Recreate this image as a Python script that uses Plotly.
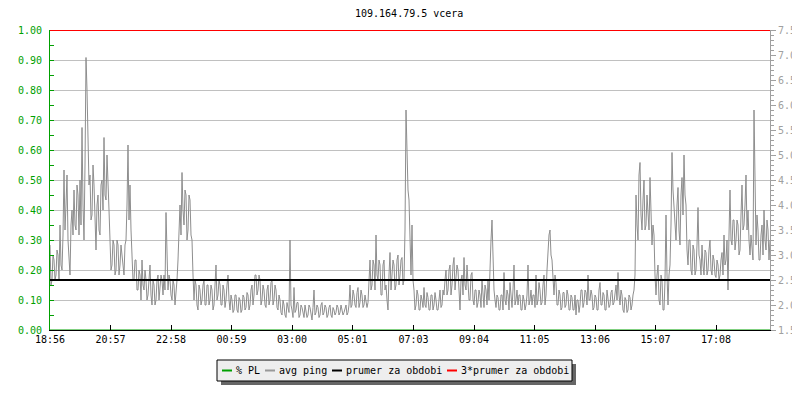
import plotly.graph_objects as go

# ---------------- data ----------------
title_text = "109.164.79.5 vcera"
tick_labels = ["18:56", "20:57", "22:58", "00:59", "03:00", "05:01",
               "07:03", "09:04", "11:05", "13:06", "15:07", "17:08"]
series_names = ["% PL", "avg ping", "prumer za obdobi", "3*prumer za obdobi"]
series_colors = ["#00a000", "#999999", "#000000", "#ff0000"]
sample_step_min = 4  # readings at 18:56 + 4*i minutes ...

# avg ping [ms] read at minute 4*i after 18:56
avg_ping_even = [
    3.2, 2.5, 2.9, 2.6, 3.0, 3.6, 2.7, 4.7, 4.0, 3.3,
    2.6, 3.9, 4.3, 3.5, 4.2, 4.5, 5.55, 3.3, 6.95, 5.0,
    4.6, 3.8, 4.4, 3.1, 4.2, 3.4, 4.5, 5.35, 4.1, 4.6,
    3.3, 2.8, 3.2, 2.7, 3.2, 2.8, 3.0, 2.6, 3.3, 5.2,
    4.4, 3.0, 2.5, 2.9, 2.3, 2.6, 2.9, 2.3, 2.5, 2.2,
    2.8, 2.0, 2.4, 2.1, 2.6, 2.3, 2.5, 2.6, 3.85, 2.3,
    2.5, 2.1, 2.4, 2.2, 2.9, 4.0, 4.65, 3.6, 4.2, 3.5,
    4.1, 3.3, 2.1, 2.4, 1.9, 2.3, 2.1, 2.5, 2.0, 2.4,
    2.1, 2.3, 2.0, 2.8, 2.2, 2.4, 2.0, 2.3, 2.1, 2.6,
    1.9, 2.1, 1.9, 2.2, 1.85, 2.1, 1.9, 2.15, 1.95, 2.2,
    2.0, 2.4, 2.2, 2.6, 2.3, 2.5, 2.1, 2.3, 1.95, 2.4,
    2.1, 2.5, 2.1, 2.3, 1.9, 2.1, 1.8, 2.0, 1.75, 1.95,
    3.3, 1.9,
    2.35, 1.9, 2.05, 1.8, 1.95, 1.75, 1.9, 1.8, 1.95, 1.7,
    2.3, 1.85, 1.95, 1.8, 2.05, 1.85, 1.95, 1.8, 2.0, 1.75,
    1.9, 1.85, 1.95, 1.85, 1.9, 1.85, 2.0, 1.85, 2.4, 2.0,
    2.2, 1.95, 2.35, 2.05, 2.2, 2.0, 2.1, 2.05, 2.9, 2.4,
    2.8, 3.4, 2.5, 2.8, 2.2, 2.9, 2.4, 1.9, 3.05, 2.6,
    2.8, 2.4, 3.0, 2.6, 2.95, 2.5, 5.9, 4.3, 3.0, 3.6,
    2.3, 2.0, 2.2, 1.9, 2.1, 2.35, 1.95, 2.15, 1.9, 2.2,
    2.0, 2.1, 1.9, 2.3, 2.0, 2.2, 2.7, 2.3, 2.8, 2.4,
    2.95, 2.5, 2.7, 1.9, 2.6, 2.95, 2.3, 2.5, 2.1, 2.65,
    2.0, 2.3, 2.05, 2.2, 2.5, 1.95, 2.3, 2.5, 3.0, 3.7,
    2.3, 1.95, 2.15, 1.9, 2.2, 2.65, 2.0, 2.2, 2.45, 1.95,
    2.8, 2.1, 2.0, 2.2, 1.9, 2.1, 2.0, 2.8, 2.1, 2.0,
    2.2,
    2.6, 2.1, 2.3, 2.05, 2.6, 2.2, 3.1, 3.5, 2.9, 2.2,
    2.45, 2.0, 2.2, 1.95, 2.25, 2.0, 2.2, 1.9, 2.15, 1.9,
    1.8, 2.1, 2.0, 2.3, 2.05, 2.25, 2.6, 2.1, 2.2, 1.95,
    2.15, 1.9, 2.45, 2.0, 2.2, 1.9, 2.1, 2.0, 2.3, 2.05,
    2.4, 2.65, 2.0, 2.2, 1.85, 2.1, 1.9, 2.15, 2.0, 2.3,
    4.2, 3.3, 4.85, 3.5, 4.5, 3.6, 3.9, 4.55, 3.2, 3.4,
    2.2, 2.8, 2.0, 2.5, 1.9, 3.8, 2.0, 2.8, 5.05, 3.9,
    3.3, 4.35, 3.2, 4.55, 5.0, 4.0, 2.8, 3.3, 2.6, 3.1,
    2.7, 3.95, 2.9, 3.2, 2.6, 3.05, 2.7, 3.3, 2.6, 2.9,
    2.55, 2.8, 2.6, 3.05, 3.4, 2.9, 2.3, 4.3, 3.2, 3.7,
    3.3, 3.6, 3.1, 4.4, 3.6, 4.6, 3.9, 3.0, 3.2, 5.9,
    3.2, 3.5, 2.9, 3.6, 3.9, 3.1, 3.5, 3.3,
]
# avg ping [ms] read at minute 4*i + 2 after 18:56
avg_ping_odd = [
    2.4, 3.0, 2.5, 3.1, 2.5, 2.8, 3.4, 3.5, 4.6, 2.9,
    3.6, 3.4, 3.6, 4.4, 3.4, 3.6, 4.0, 4.8, 6.3, 4.4,
    3.7, 4.8, 3.6, 4.0, 3.5, 4.4, 3.9, 4.2, 5.0, 3.9,
    2.7, 3.3, 2.6, 3.3, 2.6, 3.2, 2.7, 3.2, 4.0, 3.7,
    3.5, 2.5, 2.9, 2.3, 2.7, 2.1, 2.4, 2.7, 2.1, 2.6,
    2.2, 2.5, 2.0, 2.5, 2.1, 2.6, 2.2, 2.3, 2.9, 2.6,
    2.2, 2.5, 2.0, 2.5, 3.5, 3.4, 3.9, 4.3, 3.3, 4.2,
    3.4, 2.6, 2.5, 2.0, 2.4, 2.0, 2.4, 2.0, 2.4, 2.0,
    2.4, 1.9, 2.4, 2.1, 2.5, 2.0, 2.4, 1.95, 2.4, 2.1,
    2.2, 1.85, 2.2, 1.9, 2.15, 1.85, 2.2, 1.9, 2.25, 1.9,
    2.3, 2.0, 2.6, 2.2, 2.6, 2.0, 2.4, 2.0, 2.3, 2.0,
    2.45, 2.0, 2.4, 1.95, 2.2, 1.85, 2.1, 1.8, 2.05, 1.85,
    2.0, 1.75,
    1.85, 2.05, 1.75, 2.0, 1.8, 2.0, 1.75, 2.0, 1.8, 1.95,
    1.8, 2.0, 1.75, 2.0, 1.8, 2.0, 1.75, 1.95, 1.8, 1.95,
    1.8, 2.0, 1.8, 2.0, 1.8, 1.95, 1.8, 2.0, 1.95, 2.3,
    2.0, 2.25, 1.95, 2.3, 1.95, 2.2, 1.95, 2.5, 2.3, 2.9,
    2.3, 2.6, 2.9, 2.2, 2.8, 2.3, 2.1, 2.6, 2.3, 2.9,
    2.3, 2.9, 2.4, 2.9, 2.4, 3.5, 4.7, 4.1, 2.6, 2.5,
    1.9, 2.3, 1.9, 2.2, 1.95, 2.0, 2.25, 1.9, 2.2, 1.9,
    2.25, 1.9, 2.2, 1.95, 2.3, 2.5, 2.2, 2.7, 2.2, 2.8,
    2.3, 2.8, 2.2, 2.5, 2.2, 2.4, 2.8, 2.1, 2.6, 2.1,
    2.3, 1.95, 2.3, 1.95, 2.2, 2.4, 2.0, 2.1, 3.3, 2.9,
    2.1, 2.2, 1.9, 2.2, 1.9, 2.1, 2.3, 1.9, 2.2, 2.3,
    2.0, 2.3, 2.2, 1.9, 2.2, 1.9, 2.2, 2.0, 2.3, 2.2,
    1.95,
    2.0, 2.45, 2.0, 2.4, 2.0, 2.7, 3.4, 3.0, 2.4, 2.6,
    2.0, 2.3, 1.9, 2.25, 1.95, 2.3, 1.9, 2.2, 1.9, 2.2,
    2.1, 1.85, 2.3, 1.95, 2.3, 2.0, 2.1, 2.3, 1.9, 2.2,
    1.9, 2.3, 2.0, 2.25, 1.9, 2.3, 1.95, 2.25, 2.0, 2.3,
    2.1, 2.2, 2.3, 1.9, 2.15, 1.85, 2.2, 1.9, 2.2, 2.6,
    3.6, 4.6, 3.8, 4.1, 3.5, 4.2, 3.5, 3.7, 3.6, 2.6,
    2.6, 2.1, 2.6, 1.9, 2.5, 2.6, 2.6, 3.6, 4.3, 3.5,
    4.0, 3.5, 4.2, 3.8, 4.2, 3.1, 3.3, 2.7, 3.2, 2.6,
    3.2, 3.0, 2.6, 2.8, 3.1, 2.6, 3.1, 2.7, 3.0, 2.6,
    2.9, 2.5, 2.9, 2.6, 2.8, 3.3, 3.4, 3.3, 3.7, 3.1,
    3.7, 3.0, 3.8, 3.5, 4.0, 3.5, 3.3, 3.4, 2.9, 4.9,
    3.8, 2.9, 3.4, 3.0, 3.3, 3.7, 2.9,
]
prumer = 2.5      # prumer za obdobi [ms]
prumer3 = 7.5     # 3*prumer za obdobi [ms]

# ---------------- derived ----------------
def to_min(s):
    h, m = map(int, s.split(":"))
    return h * 60 + m

start = to_min(tick_labels[0])
tick_vals = [(to_min(t) - start) % 1440 for t in tick_labels]

ping_x, ping_y = [], []
for i, v in enumerate(avg_ping_even):
    ping_x.append(i * sample_step_min)
    ping_y.append(v)
    if i < len(avg_ping_odd):
        ping_x.append(i * sample_step_min + sample_step_min / 2)
        ping_y.append(avg_ping_odd[i])
packet_loss = [0.0 for _ in ping_x]
span = [0, 1440]

FONT = "DejaVu Sans Mono"
GREEN, GRAY, BLACK, RED = series_colors
AXGRAY = "#a0a0a0"

fig = go.Figure()
fig.add_trace(go.Scatter(x=ping_x, y=packet_loss, yaxis="y", mode="lines",
                         line=dict(color=GREEN, width=1), name=series_names[0],
                         showlegend=False, hoverinfo="skip"))
fig.add_trace(go.Scatter(x=ping_x, y=ping_y, yaxis="y2", mode="lines",
                         line=dict(color="#8e8e8e", width=1), name=series_names[1],
                         showlegend=False))
fig.add_trace(go.Scatter(x=span, y=[prumer, prumer], yaxis="y2", mode="lines",
                         line=dict(color=BLACK, width=2), name=series_names[2],
                         showlegend=False))
fig.add_trace(go.Scatter(x=span, y=[prumer3, prumer3], yaxis="y2", mode="lines",
                         line=dict(color=RED, width=2), name=series_names[3],
                         showlegend=False))

# page pixel -> paper coords (plot area on the page: x 50..770, y 30..330)
def px(x):
    return (x - 50) / 720.0

def py(y):
    return (330 - y) / 300.0

shapes = [
    dict(type="rect", xref="paper", yref="paper", x0=px(221), x1=px(576),
         y0=py(385), y1=py(364), fillcolor="#666666", line=dict(width=0), layer="above"),
    dict(type="rect", xref="paper", yref="paper", x0=px(217), x1=px(572),
         y0=py(381), y1=py(360), fillcolor="#eeeeee",
         line=dict(color="#000000", width=1), layer="above"),
]
annotations = [
    dict(text=title_text, xref="paper", yref="paper", x=px(409), y=py(13),
         xanchor="center", yanchor="middle", showarrow=False,
         font=dict(family=FONT, size=10, color="#000000")),
]
cur = 222
ly = 370.5
for name, col in zip(series_names, series_colors):
    shapes.append(dict(type="line", xref="paper", yref="paper", x0=px(cur), x1=px(cur + 10),
                       y0=py(ly), y1=py(ly), line=dict(color=col, width=2), layer="above"))
    tx = cur + 13
    annotations.append(dict(text=name, xref="paper", yref="paper", x=px(tx), y=py(ly),
                            xanchor="left", yanchor="middle", showarrow=False,
                            borderpad=0, font=dict(family=FONT, size=10, color="#000000")))
    cur = tx + 6 * len(name) + 6

# the page body has an 8px margin, so the figure margins are offset by 8px
fig.update_layout(
    width=800, height=400,
    margin=dict(l=42, r=38, t=22, b=78, pad=0, autoexpand=False),
    paper_bgcolor="white", plot_bgcolor="white",
    font=dict(family=FONT, size=10, color="#000000"),
    showlegend=False,
    hovermode=False,
    xaxis=dict(range=span, tickvals=tick_vals, ticktext=tick_labels,
               ticks="inside", ticklen=5, tickcolor=BLACK, tickwidth=1,
               showline=True, linecolor=BLACK, linewidth=1,
               showgrid=False, zeroline=False,
               tickfont=dict(family=FONT, size=10, color=BLACK)),
    yaxis=dict(range=[0, 1], tick0=0, dtick=0.1, tickformat=".2f",
               ticks="inside", ticklen=4, tickcolor=GREEN,
               showline=True, linecolor=GREEN, linewidth=1,
               showgrid=True, gridcolor="#c0c0c0", gridwidth=1, zeroline=False,
               minor=dict(dtick=0.05, ticks="inside", ticklen=4, tickcolor=GREEN, showgrid=False),
               tickfont=dict(family=FONT, size=10, color=GREEN), ticklabelstandoff=5),
    yaxis2=dict(overlaying="y", side="right", range=[1.5, 7.5], tick0=1.5, dtick=0.5,
                tickformat=".1f", ticks="outside", ticklen=5, tickcolor=AXGRAY,
                showline=True, linecolor=AXGRAY, linewidth=1,
                showgrid=False, zeroline=False,
                minor=dict(dtick=0.1, ticks="outside", ticklen=3, tickcolor=AXGRAY, showgrid=False),
                tickfont=dict(family=FONT, size=10, color=AXGRAY)),
    shapes=shapes,
    annotations=annotations,
)

fig.write_html("out.html")
